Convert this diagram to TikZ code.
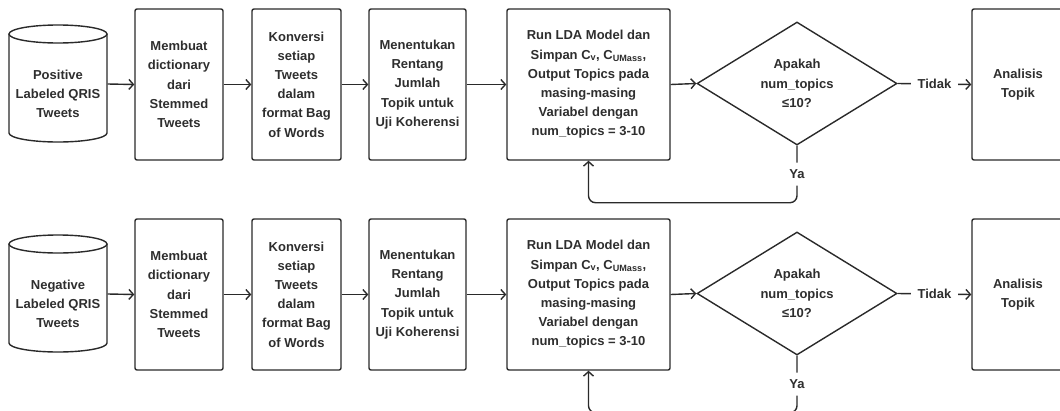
\documentclass[tikz,border=0pt]{standalone}
\usepackage{fontspec}
\setmainfont{Liberation Sans}
\usetikzlibrary{shapes.geometric,arrows.meta}
\definecolor{ln}{HTML}{2A2A2A}
\definecolor{txt}{HTML}{2E2E2E}
\begin{document}
\begin{tikzpicture}[x=1pt,y=-1pt,
  line width=1.4pt,
  every node/.style={text=txt, font=\fontsize{13}{19.2}\selectfont\bfseries},
  box/.style={draw=ln, rounded corners=2pt, minimum height=151pt, align=center, inner sep=0pt},
  dec/.style={draw=ln, diamond, aspect=1.63, minimum width=200pt, minimum height=123pt, inner sep=0pt, align=center},
  arr/.style={draw=ln, -{Straight Barb[length=4.5pt,width=10pt]}},
  lbl/.style={fill=white, inner xsep=7pt, inner ysep=7pt},
  cylbox/.style={minimum width=98pt, minimum height=117pt, inner sep=0pt}
]
\useasboundingbox (0,0) rectangle (1060,410);
\clip (0,0) rectangle (1060,410);
\foreach \r/\oy/\lab in {t/0/Positive, b/210/Negative}{
  % cylinder
  \node[cylbox] (c\r) at (58,84+\oy) {};
  \draw[ln] (58,34+\oy) ellipse [x radius=49pt, y radius=9pt];
  \draw[ln] (9,34+\oy) -- (9,133+\oy) arc[start angle=180, end angle=360, x radius=49pt, y radius=9pt] -- (107,34+\oy);
  \node[align=center] (ct\r) at (58,94+\oy) {\lab\\Labeled QRIS\\Tweets};
  % boxes
  \node[box, minimum width=88pt] (b1\r) at (179,84.5+\oy) {Membuat\\dictionary\\dari\\Stemmed\\Tweets};
  \node[box, minimum width=89pt] (b2\r) at (296.5,84.5+\oy) {Konversi\\setiap\\Tweets\\dalam\\format Bag\\of Words};
  \node[box, minimum width=97pt] (b3\r) at (417.5,84.5+\oy) {Menentukan\\Rentang\\Jumlah\\Topik untuk\\Uji Koherensi};
  \node[box, minimum width=163pt] (b4\r) at (588.5,84.5+\oy) {Run LDA Model dan\\Simpan C\textsubscript{v}, C\textsubscript{UMass},\\Output Topics pada\\masing-masing\\Variabel dengan\\num\_topics = 3-10};
  \node[dec] (d\r) at (797,83.5+\oy) {Apakah\\num\_topics\\≤10?};
  \node[box, minimum width=92pt] (b5\r) at (1018,84.5+\oy) {Analisis\\Topik};
  % connectors
  \draw[arr] (c\r.east) -- (b1\r.west);
  \draw[arr] (b1\r.east) -- (b2\r.west);
  \draw[arr] (b2\r.east) -- (b3\r.west);
  \draw[arr] (b3\r.east) -- (b4\r.west);
  \draw[arr] (b4\r.east) -- (d\r.west);
  \draw[arr] (d\r.east) -- node[lbl, inner ysep=2pt] {Tidak} (b5\r.west);
  \draw[arr, rounded corners=7pt] (d\r.south) -- node[lbl, inner xsep=2pt] {Ya} ++(0,57) -| (b4\r.south);
}
\end{tikzpicture}
\end{document}
